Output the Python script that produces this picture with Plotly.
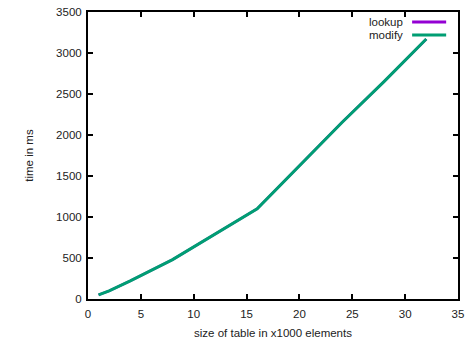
import plotly.graph_objects as go

sizes = [1, 2, 4, 8, 16, 20, 24, 28, 32]
lookup_ms = [50, 100, 220, 480, 1100, 1630, 2150, 2650, 3170]
modify_ms = [50, 100, 220, 480, 1100, 1630, 2150, 2650, 3170]
series_names = ["lookup", "modify"]
series_colors = ["#9400d3", "#009e73"]

FONT = "Liberation Sans, Arial, sans-serif"
FS = 11.5

fig = go.Figure()
for name, vals, col, w in zip(series_names, [lookup_ms, modify_ms], series_colors, [2.5, 3]):
    fig.add_trace(go.Scatter(x=sizes, y=vals, mode="lines", name=name,
                             line=dict(color=col, width=w), showlegend=False))

# manual gnuplot-style legend (text left of sample)
leg_y = [0.965, 0.920]
for name, col, yy in zip(series_names, series_colors, leg_y):
    fig.add_shape(type="line", xref="paper", yref="paper", x0=0.876, x1=0.968,
                  y0=yy, y1=yy, line=dict(color=col, width=3))
    fig.add_annotation(xref="paper", yref="paper", x=0.857, y=yy, text=name,
                       showarrow=False, xanchor="right", yanchor="middle",
                       font=dict(family=FONT, size=FS, color="#222"))

axis_common = dict(showline=True, linecolor="black", linewidth=2, mirror="allticks",
                   ticks="inside", ticklen=5, tickwidth=2, tickcolor="black",
                   showgrid=False, zeroline=False, automargin=False,
                   tickfont=dict(family=FONT, size=FS, color="#222"))

fig.update_xaxes(range=[0, 35], dtick=5, ticklabelstandoff=3,
                 title=dict(text="size of table in x1000 elements",
                            font=dict(family=FONT, size=FS, color="#222"), standoff=10),
                 **axis_common)
fig.update_yaxes(range=[0, 3500], dtick=500, ticklabelstandoff=2,
                 title=dict(text="time in ms",
                            font=dict(family=FONT, size=FS, color="#222"), standoff=20),
                 **axis_common)

fig.update_layout(width=467, height=342, margin=dict(l=88, r=9, t=12, b=43),
                  plot_bgcolor="white", paper_bgcolor="white")

fig.write_html("out.html")
